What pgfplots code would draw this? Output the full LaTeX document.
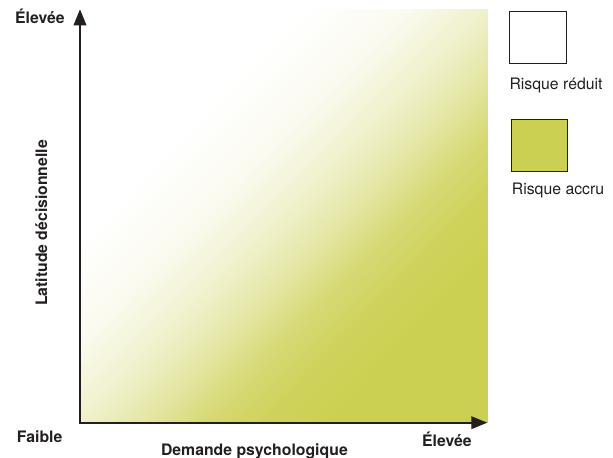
\documentclass[border=0pt]{standalone}
\usepackage{pgfplots}
\pgfplotsset{compat=1.18}
\usepackage{fontspec}
\setmainfont{TeX Gyre Heros}
\usetikzlibrary{arrows.meta}
\definecolor{riskgreen}{RGB}{204,208,82}
\definecolor{ink}{RGB}{35,31,32}
\begin{document}
\begin{tikzpicture}[x=1bp,y=1bp]
\begin{axis}[
  at={(80bp,35.3bp)}, anchor=origin,
  scale only axis, width=407.3bp, height=413.4bp,
  view={0}{90},
  xmin=0, xmax=1, ymin=0, ymax=1, zmin=-1, zmax=1,
  axis lines=none, ticks=none, clip=false,
  point meta min=0, point meta max=2,
  colormap={risk}{
    color(0cm)=(white)
    color(5.5cm)=(white)
    color(8cm)=(riskgreen!9!white)
    color(10cm)=(riskgreen!30!white)
    color(11.5cm)=(riskgreen!52!white)
    color(13cm)=(riskgreen!80!white)
    color(14.5cm)=(riskgreen!95!white)
    color(16cm)=(riskgreen)
    color(20cm)=(riskgreen)
  },
]
\addplot3[surf, shader=interp, point meta=explicit] coordinates {
  (0,0,0) [1] (1,0,0) [2]

  (0,1,0) [0] (1,1,0) [1]
};
\draw[ink, line width=2bp, line join=miter,
  {Triangle[length=16bp,width=12.5bp]}-{Triangle[length=16bp,width=12.5bp]}]
  (axis cs:0,1,0) -- (axis cs:0,0,0) -- (axis cs:1,0,0);
\end{axis}
% legend
\draw[ink, line width=0.8bp, fill=white] (509.5,394.7) rectangle (566.5,446.3);
\draw[ink, line width=0.8bp, fill=riskgreen] (511.5,286.3) rectangle (567.5,338.7);
\begin{scope}[every node/.style={inner sep=0pt, text=ink}]
\node[anchor=base west, font=\fontsize{15.8bp}{18bp}\selectfont] at (509.3,368.7) {Risque réduit};
\node[anchor=base west, font=\fontsize{15.8bp}{18bp}\selectfont] at (511.7,263.7) {Risque accru};
\node[anchor=base west, font=\fontsize{15.8bp}{18bp}\selectfont\bfseries] at (15,434) {Élevée};
\node[anchor=base west, font=\fontsize{15.8bp}{18bp}\selectfont\bfseries] at (16.7,15.3) {Faible};
\node[anchor=base west, font=\fontsize{15.8bp}{18bp}\selectfont\bfseries] at (422,11.3) {Élevée};
\node[anchor=base, font=\fontsize{15.8bp}{18bp}\selectfont\bfseries] at (254.4,2.5) {Demande psychologique};
\node[anchor=base, rotate=90, font=\fontsize{15.8bp}{18bp}\selectfont\bfseries] at (47,235) {Latitude décisionnelle};
\end{scope}
\pgfresetboundingbox
\path[use as bounding box] (0,0) rectangle (613,458);
\end{tikzpicture}
\end{document}
